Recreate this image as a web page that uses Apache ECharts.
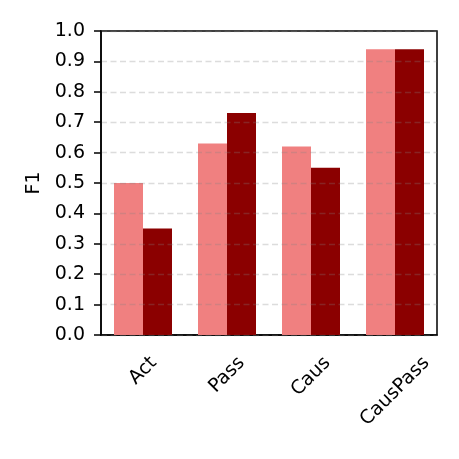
<!DOCTYPE html>
<html>
<head>
<meta charset="utf-8">
<script src="https://cdn.jsdelivr.net/npm/echarts@6/dist/echarts.min.js"></script>
<style>
  html, body { margin: 0; padding: 0; background: #fff; }
  #chart { width: 459px; height: 459px; }
</style>
</head>
<body>
<div id="chart"></div>
<script>
// data
const categories = ['Act', 'Pass', 'Caus', 'CausPass'];
const lightValues = [0.50, 0.63, 0.62, 0.94];
const darkValues = [0.35, 0.73, 0.55, 0.94];
const yTicks = [0, 0.1, 0.2, 0.3, 0.4, 0.5, 0.6, 0.7, 0.8, 0.9, 1.0];

const FONT = 'DejaVu Sans';
const tickFontSize = 19;

// measure label widths so rotated labels can be centred under ticks (matplotlib style)
const measureCtx = document.createElement('canvas').getContext('2d');
measureCtx.font = tickFontSize + 'px "' + FONT + '"';
const labelRich = {};
categories.forEach((name, i) => {
  const w = measureCtx.measureText(name).width;
  labelRich['l' + i] = {
    fontFamily: FONT,
    fontSize: tickFontSize,
    color: '#000',
    padding: [w / 2, w / 2, 0, 0]
  };
});

const chart = echarts.init(document.getElementById('chart'));

const option = {
  animation: false,
  grid: {
    left: 101,
    right: 22,
    top: 31,
    bottom: 124,
    show: true,
    borderColor: '#000',
    borderWidth: 1.5,
    backgroundColor: 'transparent'
  },
  xAxis: {
    type: 'category',
    data: categories,
    axisLine: { lineStyle: { color: '#000', width: 1.5 } },
    axisTick: { alignWithLabel: true, length: 7, lineStyle: { color: '#000', width: 1.5 } },
    axisLabel: {
      rotate: 45,
      align: 'center',
      verticalAlign: 'middle',
      margin: 25,
      color: '#000',
      fontFamily: FONT,
      fontSize: tickFontSize,
      formatter: (v, i) => '{l' + i + '|' + v + '}',
      rich: labelRich
    },
    splitLine: { show: false }
  },
  yAxis: {
    type: 'value',
    min: 0,
    max: 1,
    interval: 0.1,
    z: 5,
    name: 'F1',
    nameLocation: 'middle',
    nameGap: 56,
    nameTextStyle: { color: '#000', fontFamily: FONT, fontSize: 19 },
    axisLine: { show: true, lineStyle: { color: '#000', width: 1.5 } },
    axisTick: { show: true, length: 7, lineStyle: { color: '#000', width: 1.5 } },
    axisLabel: {
      margin: 16,
      color: '#000',
      fontFamily: FONT,
      fontSize: tickFontSize,
      formatter: v => {
        const t = yTicks.find(x => Math.abs(x - v) < 1e-9);
        return (t !== undefined ? t : v).toFixed(1);
      }
    },
    splitLine: {
      show: true,
      lineStyle: { color: 'rgba(128,128,128,0.28)', type: [6, 3.5], width: 1.3 }
    }
  },
  series: [
    {
      name: 'light',
      type: 'bar',
      data: lightValues,
      barWidth: 29,
      barGap: '0%',
      itemStyle: { color: '#F08080' }
    },
    {
      name: 'dark',
      type: 'bar',
      data: darkValues,
      barWidth: 29,
      itemStyle: { color: '#8B0000' }
    }
  ]
};

chart.setOption(option);
</script>
</body>
</html>
